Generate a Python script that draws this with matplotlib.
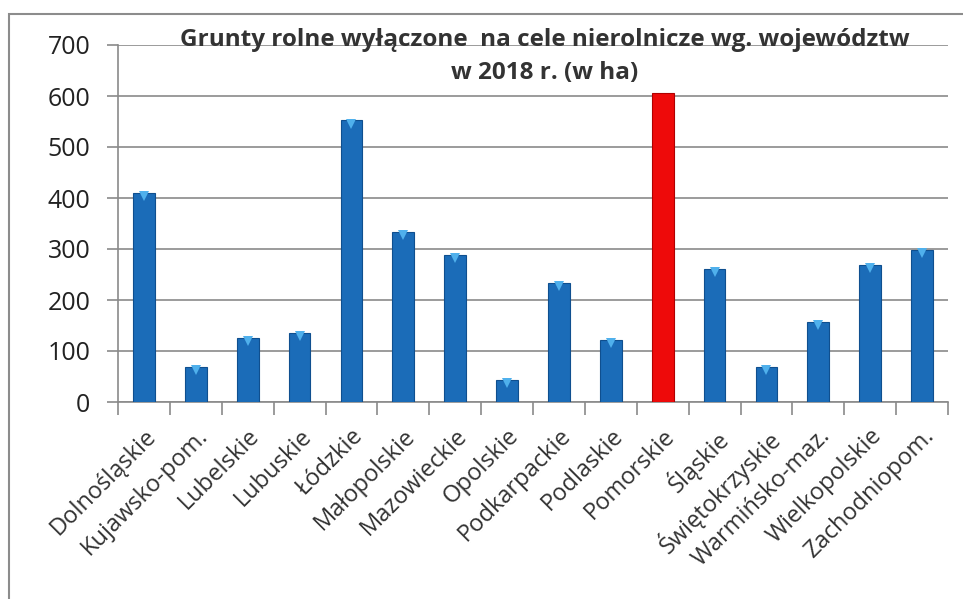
import matplotlib
matplotlib.use("Agg")
import matplotlib.pyplot as plt
from matplotlib.patches import Rectangle
import numpy as np

categories = ["Dolnośląskie", "Kujawsko-pom.", "Lubelskie", "Lubuskie", "Łódzkie",
              "Małopolskie", "Mazowieckie", "Opolskie", "Podkarpackie", "Podlaskie",
              "Pomorskie", "Śląskie", "Świętokrzyskie", "Warmińsko-maz.",
              "Wielkopolskie", "Zachodniopom."]
values = [410, 68, 125, 135, 552, 333, 288, 43, 234, 122, 605, 261, 69, 157, 269, 299]
highlight = "Pomorskie"
yticks = [0, 100, 200, 300, 400, 500, 600, 700]
title = "Grunty rolne wyłączone  na cele nierolnicze wg. województw\nw 2018 r. (w ha)"

plt.rcParams['font.family'] = ['Open Sans', 'DejaVu Sans']

fig = plt.figure(figsize=(9.63, 5.99), dpi=100)
fig.patch.set_facecolor("white")
# outer frame
fig.patches.append(Rectangle((9/963, -0.05), 1.2, 1 - 14/599 + 0.05, transform=fig.transFigure,
                             fill=False, edgecolor="#8c8c8c", linewidth=1.5))

ax = fig.add_axes([118/963, 1 - 402/599, (948 - 118)/963, (402 - 45)/599])
x = np.arange(len(categories))
colors = ["#ee0a0a" if c == highlight else "#1b6cb8" for c in categories]
edge = ["#b00000" if c == highlight else "#0f4f8f" for c in categories]
ax.bar(x, values, width=0.42, color=colors, edgecolor=edge, linewidth=0.8, zorder=3)
# light cap marker on blue bars
for xi, v, c in zip(x, values, categories):
    if c != highlight:
        ax.plot([xi], [v - 6], marker="v", markersize=7, color="#4fb0ec",
                markeredgewidth=0, zorder=4)

ax.set_xlim(-0.5, len(categories) - 0.5)
ax.set_ylim(0, 700)
ax.set_yticks(yticks)
ax.set_yticklabels([str(t) for t in yticks], fontsize=18, color="#222222")
ax.yaxis.grid(True, color="#8a8a8a", linewidth=1.2, zorder=0)
ax.set_axisbelow(True)

ax.set_xticks(x)
ax.set_xticklabels(categories, rotation=45, ha="right", rotation_mode="anchor",
                   fontsize=17, color="#333333")
ax.tick_params(axis="x", length=0, pad=16)
ax.set_xticks(np.arange(-0.5, len(categories)), minor=True)
ax.tick_params(axis="x", which="minor", length=9, color="#8a8a8a", width=1.2)
ax.tick_params(axis="y", length=8, color="#8a8a8a", width=1.2, pad=12)

for s in ["top", "right"]:
    ax.spines[s].set_visible(False)
ax.spines["left"].set_color("#8a8a8a")
ax.spines["bottom"].set_color("#8a8a8a")
ax.spines["left"].set_linewidth(1.2)
ax.spines["bottom"].set_linewidth(1.2)

fig.text(545/963, 1 - 56/599, title, ha="center", va="center", fontsize=17.5,
         fontweight="bold", color="#333333", linespacing=1.5)

fig.savefig("out.png", dpi=100)
